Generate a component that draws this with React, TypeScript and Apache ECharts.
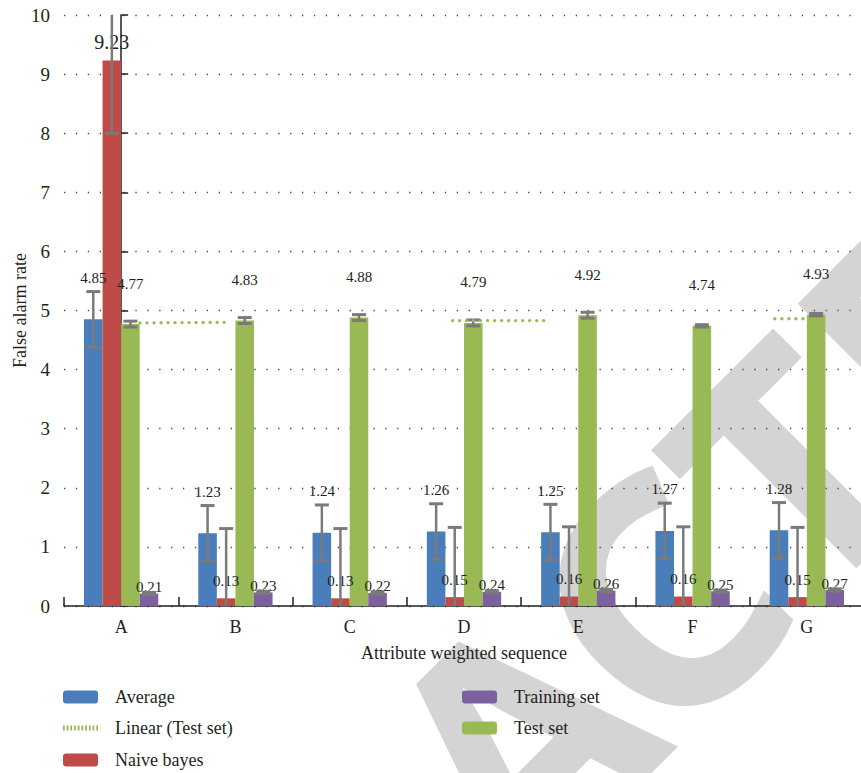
import React, { useEffect, useRef } from "react";
import * as echarts from "echarts";

const categories = ["A", "B", "C", "D", "E", "F", "G"];
const averageValues = [4.85, 1.23, 1.24, 1.26, 1.25, 1.27, 1.28];
const naiveBayesValues = [9.23, 0.13, 0.13, 0.15, 0.16, 0.16, 0.15];
const testSetValues = [4.77, 4.83, 4.88, 4.79, 4.92, 4.74, 4.93];
const trainingSetValues = [0.21, 0.23, 0.22, 0.24, 0.26, 0.25, 0.27];

const averageErrors = [0.47, 0.47, 0.47, 0.47, 0.47, 0.47, 0.47];
const naiveBayesErrors = [1.23, 1.18, 1.18, 1.18, 1.18, 1.18, 1.18];
const testSetErrors = [0.05, 0.05, 0.05, 0.05, 0.05, 0.02, 0.02];
const trainingSetErrors = [0.02, 0.02, 0.02, 0.02, 0.02, 0.02, 0.02];

// Linear (Test set) trend line, visible pieces only (x in category index units)
const trendSegments = [
  [[0.165, 4.79], [0.909, 4.8]],
  [[2.9, 4.83], [3.71, 4.83]],
  [[5.72, 4.86], [5.97, 4.86]],
];

const yMin = 0;
const yMax = 10;
const yInterval = 1;

const SERIF = "'Liberation Serif', 'DejaVu Serif', serif";
const COLORS = {
  average: "#4a7ebb",
  naive: "#be4b48",
  test: "#98b954",
  training: "#7d60a0",
  err: "#7a7a7a",
  text: "#231f20",
  watermark: "#d4d4d4",
};

const BAR_FRACTION = 0.65;
const N_BARS = 4;

// watermark word, laid out letter by letter along a 45° line
const WATERMARK = "RETRACTED";
const WM_ADVANCE: Record<string, number> = { R: 0.656, E: 0.556, T: 0.58, A: 0.64, C: 0.6, D: 0.738 };
const WM_SIZE = 320;

function watermarkLetters() {
  const letters = WATERMARK.split("");
  const anchorIdx = 4; // the "A"
  const anchorA = -159; // along the reading direction (px)
  const bMid = 779 + 0.326 * WM_SIZE; // across it (px)
  const centers: number[] = [];
  let pos = 0;
  letters.forEach((ch) => {
    const adv = WM_ADVANCE[ch] * WM_SIZE;
    centers.push(pos + adv / 2);
    pos += adv;
  });
  const shift = anchorA - centers[anchorIdx];
  const k = Math.SQRT1_2;
  return letters.map((ch, i) => {
    const a = centers[i] + shift;
    const x = (a + bMid) * k;
    const y = (bMid - a) * k;
    return {
      type: "text",
      x,
      y,
      rotation: Math.PI / 4,
      z: -10,
      silent: true,
      style: {
        text: ch,
        fontSize: WM_SIZE,
        fontWeight: "bold",
        fontFamily: "'Noto Sans', 'DejaVu Sans', sans-serif",
        fill: COLORS.watermark,
        align: "center",
        verticalAlign: "middle",
        textAlign: "center",
        textVerticalAlign: "middle",
      },
    };
  });
}

function dottedIconPath() {
  let d = "path://";
  for (let i = 0; i < 10; i++) {
    const x = i * 3.8;
    d += `M${x},0h1.8v5h-1.8z`;
  }
  return d;
}

function errorSeries(values: number[], errors: number[], slot: number) {
  return {
    type: "custom",
    name: "err" + slot,
    z: 3,
    silent: true,
    xAxisIndex: 0,
    yAxisIndex: 0,
    data: values.map((v, i) => [i, v, errors[i]]),
    encode: { x: 0, y: 1 },
    renderItem: (params: any, api: any) => {
      const idx = api.value(0);
      const v = api.value(1);
      const e = api.value(2);
      const band = api.size([1, 0])[0];
      const bw = (band * BAR_FRACTION) / N_BARS;
      const center = api.coord([idx, v]);
      const x = center[0] + (slot - (N_BARS - 1) / 2) * bw;
      const rawHi = v + e;
      const rawLo = v - e;
      const hi = Math.min(rawHi, yMax);
      const lo = Math.max(rawLo, yMin);
      const yHi = api.coord([idx, hi])[1];
      const yLo = api.coord([idx, lo])[1];
      const capW = 7;
      const children: any[] = [
        {
          type: "line",
          shape: { x1: x, y1: yHi, x2: x, y2: yLo },
          style: { stroke: COLORS.err, lineWidth: 2.5 },
        },
      ];
      if (rawHi <= yMax) {
        children.push({
          type: "line",
          shape: { x1: x - capW, y1: yHi, x2: x + capW, y2: yHi },
          style: { stroke: COLORS.err, lineWidth: 3 },
        });
      }
      if (rawLo >= yMin) {
        children.push({
          type: "line",
          shape: { x1: x - capW, y1: yLo, x2: x + capW, y2: yLo },
          style: { stroke: COLORS.err, lineWidth: 3 },
        });
      }
      return { type: "group", children };
    },
  };
}

export default function App() {
  const ref = useRef<HTMLDivElement>(null);

  useEffect(() => {
    if (!ref.current) return;
    const chart = echarts.init(ref.current, null, { renderer: "svg" });

    const labelBase = {
      show: true,
      position: "top",
      fontFamily: SERIF,
      fontSize: 15,
      color: COLORS.text,
    };

    const trendStyle = {
      color: COLORS.test,
      width: 3.3,
      type: [0.01, 7],
      cap: "round",
    };

    const legendText = {
      fontFamily: SERIF,
      fontSize: 18,
      color: COLORS.text,
      lineHeight: 18,
      padding: [0, 0, 0, 12],
    };

    const legendBase = {
      orient: "vertical",
      padding: 0,
      itemWidth: 35,
      itemHeight: 13,
      itemGap: 13,
      textStyle: legendText,
    };

    const option: any = {
      animation: false,
      backgroundColor: "#ffffff",
      textStyle: { fontFamily: SERIF },
      graphic: watermarkLetters(),
      grid: {
        left: 64,
        right: -3,
        top: 15,
        bottom: 167,
        containLabel: false,
        outerBoundsMode: "none",
      },
      legend: [
        { ...legendBase, left: 63, top: 688, data: ["Average"] },
        {
          ...legendBase,
          left: 63,
          top: 719,
          itemHeight: 5,
          data: [{ name: "Linear (Test set)", icon: dottedIconPath() }],
        },
        { ...legendBase, left: 63, top: 751, data: ["Naive bayes"] },
        { ...legendBase, left: 462, top: 688, data: ["Training set", "Test set"] },
      ],
      xAxis: [
        {
          type: "category",
          data: categories,
          name: "Attribute weighted sequence",
          nameLocation: "middle",
          nameGap: 38,
          nameMoveOverlap: false,
          nameTextStyle: { fontFamily: SERIF, fontSize: 18, color: COLORS.text },
          axisLine: { show: true, lineStyle: { color: COLORS.text, width: 1.5 } },
          axisTick: { show: true, inside: true, length: 9, lineStyle: { color: COLORS.text, width: 1.5 } },
          axisLabel: { fontFamily: SERIF, fontSize: 18, color: COLORS.text, margin: 12 },
          splitLine: { show: false },
        },
        {
          type: "value",
          min: -0.5,
          max: 6.5,
          show: false,
        },
      ],
      yAxis: {
        type: "value",
        min: yMin,
        max: yMax,
        interval: yInterval,
        name: "False alarm rate",
        nameLocation: "middle",
        nameGap: 35,
        nameMoveOverlap: false,
        nameRotate: 90,
        nameTextStyle: { fontFamily: SERIF, fontSize: 18, color: COLORS.text },
        axisLine: { show: true, lineStyle: { color: COLORS.text, width: 1.5 } },
        axisTick: { show: true, inside: true, length: 7, lineStyle: { color: COLORS.text, width: 1.5 } },
        axisLabel: { fontFamily: SERIF, fontSize: 19, color: COLORS.text, margin: 14 },
        splitLine: {
          show: true,
          lineStyle: { color: "#444", width: 1.3, type: [1.3, 10.6] },
        },
      },
      series: [
        {
          name: "Average",
          type: "bar",
          barGap: "0%",
          barCategoryGap: "35%",
          itemStyle: { color: COLORS.average },
          label: { ...labelBase, distance: 34 },
          data: averageValues,
          z: 2,
        },
        {
          name: "Naive bayes",
          type: "bar",
          barGap: "0%",
          barCategoryGap: "35%",
          itemStyle: { color: COLORS.naive },
          label: { ...labelBase, distance: 10 },
          data: naiveBayesValues.map((v, i) =>
            i === 0 ? { value: v, label: { fontSize: 20, distance: 9 } } : v
          ),
          z: 2,
        },
        {
          name: "Test set",
          type: "bar",
          barGap: "0%",
          barCategoryGap: "35%",
          itemStyle: { color: COLORS.test },
          label: { ...labelBase, distance: 33 },
          data: testSetValues,
          z: 2,
        },
        {
          name: "Training set",
          type: "bar",
          barGap: "0%",
          barCategoryGap: "35%",
          itemStyle: { color: COLORS.training },
          label: { ...labelBase, distance: -1 },
          data: trainingSetValues,
          z: 2,
        },
        errorSeries(averageValues, averageErrors, 0),
        errorSeries(naiveBayesValues, naiveBayesErrors, 1),
        errorSeries(testSetValues, testSetErrors, 2),
        errorSeries(trainingSetValues, trainingSetErrors, 3),
        ...trendSegments.map((seg) => ({
          name: "Linear (Test set)",
          type: "line",
          xAxisIndex: 1,
          yAxisIndex: 0,
          symbol: "none",
          z: 4,
          silent: true,
          lineStyle: trendStyle,
          itemStyle: { color: COLORS.test },
          data: seg,
        })),
      ],
    };

    chart.setOption(option);
    return () => chart.dispose();
  }, []);

  return (
    <div
      ref={ref}
      style={{ position: "absolute", left: 0, top: 0, width: 861, height: 773 }}
    />
  );
}
